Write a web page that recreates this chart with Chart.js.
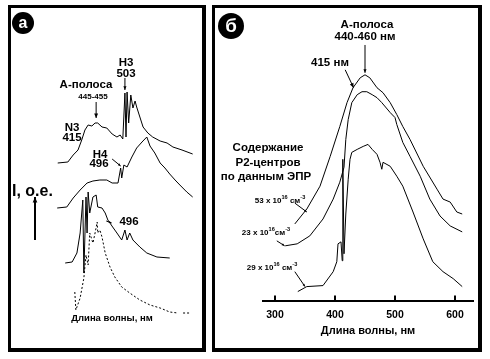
<!DOCTYPE html>
<html>
<head>
<meta charset="utf-8">
<script src="https://cdn.jsdelivr.net/npm/chart.js@4/dist/chart.umd.min.js"></script>
<style>
  body { margin: 0; width: 490px; height: 359px; background: #fff; position: relative; overflow: hidden; }
  canvas { position: absolute; }
  .marco { position: absolute; box-sizing: border-box; border: 3px solid #000; border-right-width: 4px; border-bottom-width: 4px; pointer-events: none; }
</style>
</head>
<body>
<canvas id="graficoA" width="198" height="347" style="left:8px;top:5px"></canvas>
<canvas id="graficoB" width="270" height="347" style="left:212px;top:5px"></canvas>
<div class="marco" style="left:8px;top:5px;width:198px;height:347px"></div>
<div class="marco" style="left:212px;top:5px;width:270px;height:347px"></div>
<script>
// Panel "а": cuatro espectros desplazados (nm, intensidad relativa)
const nmA1 = [377, 396, 406, 415, 422, 428, 434, 441, 447, 452, 460, 469, 479, 488, 494, 499, 503, 505, 507, 510, 514, 518, 522, 525, 531, 537, 546, 555, 569, 582, 593, 610, 630];
const intA1 = [177, 178, 185, 190, 200, 210, 215, 214, 217, 217, 213, 212, 206, 203, 205, 201, 247, 203, 248, 217, 245, 232, 239, 233, 223, 213, 207, 203, 199, 197, 193, 190, 186];

const nmA2 = [376, 394, 406, 419, 432, 443, 456, 469, 479, 490, 495, 497, 501, 507, 516, 525, 535, 544, 550, 559, 569, 578, 587, 597, 606, 619, 630];
const intA2 = [132, 133, 142, 150, 157, 159, 160, 160, 157, 157, 172, 162, 175, 173, 183, 192, 198, 203, 194, 187, 177, 172, 166, 160, 155, 148, 143];

const nmA3 = [391, 404, 413, 419, 424, 426, 430, 432, 434, 437, 443, 449, 452, 460, 466, 471, 480, 488, 497, 503, 507, 512, 518, 531, 544, 563, 587];
const intA3 = [77, 78, 87, 107, 140, 67, 143, 107, 148, 127, 143, 145, 133, 132, 127, 120, 113, 107, 100, 110, 100, 107, 100, 93, 87, 83, 82];

const nmA4 = [409, 411, 419, 426, 430, 434, 437, 443, 447, 451, 452, 456, 460, 466, 475, 484, 497, 512, 531, 550, 569, 587, 602, 607, 612, 625];
const intA4 = [48, 30, 42, 62, 85, 75, 107, 97, 107, 118, 107, 110, 103, 87, 73, 63, 53, 47, 40, 35, 32, 28, 27, null, 27, 27];

// Panel "б": espectros para tres concentraciones de centros P2
const nmB1 = [333, 353, 375, 392, 408, 420, 430, 442, 450, 458, 470, 480, 492, 503, 513, 525, 547, 570, 580, 592, 603, 612];
const intB1 = [77, 92, 115, 145, 175, 199, 214, 224, 227, 224, 214, 209, 199, 187, 175, 162, 135, 112, 102, 99, 89, 87];

const nmB2 = [317, 337, 358, 380, 397, 408, 415, 418, 422, 428, 437, 445, 453, 462, 470, 478, 492, 500, 503, 513, 525, 542, 558, 575, 592, 612];
const intB2 = [55, 57, 65, 82, 102, 119, 134, 162, 182, 199, 207, 210, 210, 207, 204, 199, 189, 184, 177, 159, 145, 125, 102, 85, 75, 69];

const nmB3 = [338, 353, 380, 397, 403, 405, 410, 412, 413, 415, 418, 422, 425, 428, 437, 447, 455, 462, 470, 475, 478, 480, 492, 503, 513, 530, 547, 563, 580, 597, 612];
const intB3 = [9, 14, 15, 29, 39, 57, 59, 40, 142, 47, 87, 122, 142, 149, 152, 155, 157, 152, 147, 139, 132, 139, 135, 125, 115, 89, 62, 39, 29, 22, 14];

const ticksB = [300, 400, 500, 600];

const fuente = '"Liberation Sans", Arial, sans-serif';

function puntos(xs, ys) {
  return xs.map((x, i) => ({ x: x, y: ys[i] }));
}

function serie(xs, ys, trazo) {
  return {
    data: puntos(xs, ys),
    borderColor: '#000',
    borderWidth: 1,
    borderDash: trazo || [],
    pointRadius: 0,
    tension: 0,
    fill: false
  };
}

function flecha(ctx, x1, y1, x2, y2, cabeza) {
  ctx.beginPath();
  ctx.moveTo(x1, y1);
  ctx.lineTo(x2, y2);
  ctx.stroke();
  const a = Math.atan2(y2 - y1, x2 - x1);
  const h = cabeza || 5;
  ctx.beginPath();
  ctx.moveTo(x2, y2);
  ctx.lineTo(x2 - h * Math.cos(a - 0.4), y2 - h * Math.sin(a - 0.4));
  ctx.lineTo(x2 - h * Math.cos(a + 0.4), y2 - h * Math.sin(a + 0.4));
  ctx.closePath();
  ctx.fill();
}

function texto(ctx, t, x, y, size, align) {
  ctx.font = 'bold ' + size + 'px ' + fuente;
  ctx.textAlign = align || 'center';
  ctx.textBaseline = 'middle';
  ctx.fillText(t, x, y);
}

// texto con exponentes: [['53 x 10', false], ['16', true], ...]
function textoSup(ctx, partes, cx, y, size) {
  const ancho = partes.reduce((s, p) => {
    ctx.font = 'bold ' + (p[1] ? size * 0.7 : size) + 'px ' + fuente;
    return s + ctx.measureText(p[0]).width;
  }, 0);
  let x = cx - ancho / 2;
  ctx.textAlign = 'left';
  ctx.textBaseline = 'middle';
  partes.forEach(p => {
    ctx.font = 'bold ' + (p[1] ? size * 0.7 : size) + 'px ' + fuente;
    ctx.fillText(p[0], x, p[1] ? y - size * 0.4 : y);
    x += ctx.measureText(p[0]).width;
  });
}

function insignia(ctx, letra, x, y, r) {
  ctx.beginPath();
  ctx.arc(x, y, r, 0, Math.PI * 2);
  ctx.fillStyle = '#000';
  ctx.fill();
  ctx.fillStyle = '#fff';
  texto(ctx, letra, x, y + 1, r * 1.45);
  ctx.fillStyle = '#000';
}

const anotacionesA = {
  id: 'anotacionesA',
  afterDraw(chart) {
    const ctx = chart.ctx;
    const sx = chart.scales.x, sy = chart.scales.y;
    const px = v => sx.getPixelForValue(v), py = v => sy.getPixelForValue(v);
    ctx.save();
    ctx.fillStyle = '#000';
    ctx.strokeStyle = '#000';
    ctx.lineWidth = 1;
    insignia(ctx, 'а', 15, 18, 11);

    texto(ctx, 'Н3', 118, 58, 11.5);
    texto(ctx, '503', 118, 69, 11.5);
    flecha(ctx, px(503), py(262), px(503), py(250), 4);

    texto(ctx, 'А-полоса', 78, 80, 11.5);
    texto(ctx, '445-455', 85, 92, 8);
    flecha(ctx, px(449), py(238), px(449), py(222), 5);

    texto(ctx, 'N3', 64, 123, 11.5);
    texto(ctx, '415', 64, 133, 11.5);

    texto(ctx, 'Н4', 92, 150, 11.5);
    texto(ctx, '496', 91, 159, 11.5);
    flecha(ctx, px(479), py(181), px(495), py(174), 3);

    texto(ctx, '496', 121, 217, 11.5);
    flecha(ctx, px(468), py(119), px(478), py(117), 3);

    texto(ctx, 'I, о.е.', 4, 187, 16, 'left');
    ctx.lineWidth = 2;
    flecha(ctx, 27, 235, 27, 192, 6);
    ctx.lineWidth = 1;

    texto(ctx, 'Длина волны, нм', 104, 313, 9.5);
    ctx.restore();
  }
};

const anotacionesB = {
  id: 'anotacionesB',
  afterDraw(chart) {
    const ctx = chart.ctx;
    const sx = chart.scales.x, sy = chart.scales.y;
    const px = v => sx.getPixelForValue(v), py = v => sy.getPixelForValue(v);
    ctx.save();
    ctx.fillStyle = '#000';
    ctx.strokeStyle = '#000';
    ctx.lineWidth = 1;
    insignia(ctx, 'б', 19, 21, 13);

    // marcas de graduación hacia arriba
    ctx.lineWidth = 2;
    ticksB.forEach(v => {
      ctx.beginPath();
      ctx.moveTo(px(v), sy.bottom);
      ctx.lineTo(px(v), sy.bottom - 5);
      ctx.stroke();
    });
    ctx.lineWidth = 1;

    texto(ctx, 'А-полоса', 155, 20, 11.5);
    texto(ctx, '440-460 нм', 153, 32, 11.5);
    flecha(ctx, px(450), py(257), px(450), py(229), 4);

    texto(ctx, '415 нм', 118, 58, 11.5);
    flecha(ctx, px(417), py(232), px(431), py(214), 5);

    texto(ctx, 'Содержание', 56, 143, 11.5);
    texto(ctx, 'Р2-центров', 56, 158, 11.5);
    texto(ctx, 'по данным ЭПР', 54, 172, 11.5);

    textoSup(ctx, [['53 х 10', false], ['16', true], [' см', false], ['-3', true]], 68, 196, 8);
    flecha(ctx, px(333), py(98), px(353), py(89), 3);
    textoSup(ctx, [['23 х 10', false], ['16', true], ['см', false], ['-3', true]], 54, 228, 8);
    flecha(ctx, px(303), py(60), px(316), py(55), 3);
    textoSup(ctx, [['29 х 10', false], ['16', true], [' см', false], ['-3', true]], 60, 263, 8);
    flecha(ctx, px(333), py(29), px(350), py(14), 3);
    ctx.restore();
  }
};

Chart.defaults.animation = false;
Chart.defaults.font.family = fuente;

new Chart(document.getElementById('graficoA').getContext('2d'), {
  type: 'line',
  data: {
    datasets: [
      serie(nmA1, intA1),
      serie(nmA2, intA2),
      serie(nmA3, intA3),
      serie(nmA4, intA4, [2, 2])
    ]
  },
  options: {
    responsive: false,
    devicePixelRatio: 1,
    layout: { padding: { left: 30, right: 8, top: 35, bottom: 12 } },
    plugins: { legend: { display: false }, tooltip: { enabled: false } },
    scales: {
      x: { type: 'linear', min: 340, max: 640, display: false },
      y: { min: 0, max: 300, display: false }
    }
  },
  plugins: [anotacionesA]
});

new Chart(document.getElementById('graficoB').getContext('2d'), {
  type: 'line',
  data: {
    datasets: [
      serie(nmB1, intB1),
      serie(nmB2, intB2),
      serie(nmB3, intB3)
    ]
  },
  options: {
    responsive: false,
    devicePixelRatio: 1,
    layout: { padding: { left: 51, right: 9, top: 37, bottom: 16 } },
    plugins: { legend: { display: false }, tooltip: { enabled: false } },
    scales: {
      x: {
        type: 'linear', min: 280, max: 630,
        afterBuildTicks: s => { s.ticks = ticksB.map(v => ({ value: v })); },
        grid: { display: true, drawOnChartArea: false, drawTicks: false },
        border: { display: true, color: '#000', width: 2 },
        ticks: { color: '#000', padding: 9, font: { size: 10.5, weight: 'bold', lineHeight: 1 }, callback: v => String(v) },
        title: { display: true, text: 'Длина волны, нм', color: '#000', font: { size: 11, weight: 'bold', lineHeight: 1 }, padding: { top: -4, bottom: 0 } }
      },
      y: { min: 0, max: 260, display: false }
    }
  },
  plugins: [anotacionesB]
});
</script>
</body>
</html>
